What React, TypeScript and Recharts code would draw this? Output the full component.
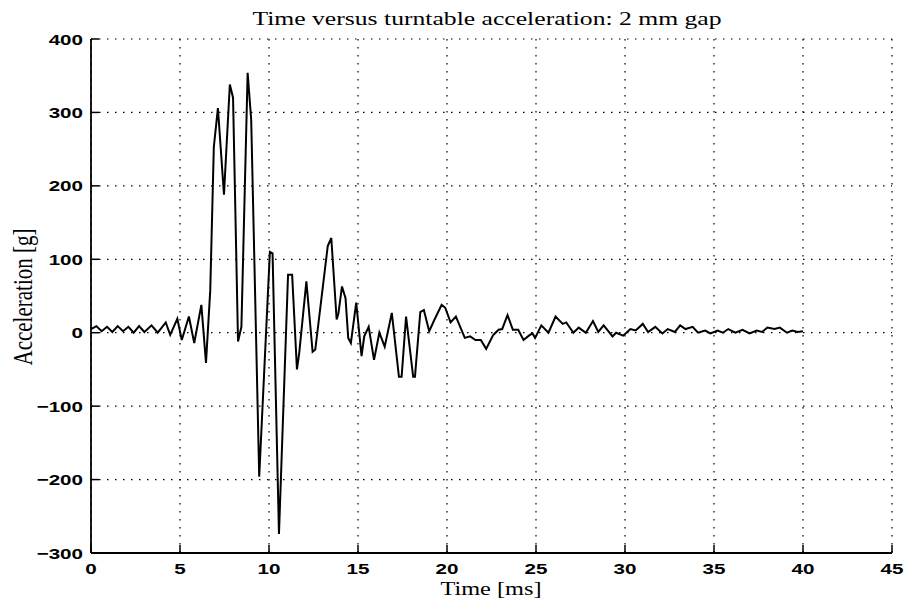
import React from "react";
import {
  LineChart,
  Line,
  XAxis,
  YAxis,
  CartesianGrid,
} from "recharts";

// time samples [ms] and acceleration [g]
const timeMs = [
  0, 0.3, 0.6, 0.9, 1.2, 1.5, 1.8, 2.1, 2.4, 2.7, 3.0, 3.4, 3.75, 4.2, 4.45,
  4.85, 5.1, 5.5, 5.8, 6.2, 6.46, 6.7, 6.9, 7.13, 7.47, 7.8, 7.98, 8.26, 8.45,
  8.8, 9.0, 9.45, 10.05, 10.2, 10.56, 11.07, 11.3, 11.57, 11.7, 12.1, 12.45,
  12.6, 13.3, 13.5, 13.8, 13.9, 14.1, 14.3, 14.45, 14.6, 14.9, 15.2, 15.35,
  15.6, 15.9, 16.2, 16.5, 16.9, 17.3, 17.45, 17.7, 18.1, 18.2, 18.5, 18.7,
  19.0, 19.3, 19.7, 19.9, 20.2, 20.5, 21.0, 21.3, 21.6, 21.9, 22.2, 22.6,
  22.9, 23.1, 23.4, 23.7, 24.0, 24.3, 24.6, 24.8, 24.95, 25.3, 25.7, 26.1,
  26.5, 26.7, 27.1, 27.4, 27.8, 28.2, 28.5, 28.8, 29.3, 29.5, 29.9, 30.3,
  30.6, 31.0, 31.3, 31.7, 32.1, 32.4, 32.8, 33.1, 33.4, 33.8, 34.1, 34.5,
  34.8, 35.2, 35.5, 35.8, 36.2, 36.6, 37.0, 37.4, 37.7, 38.0, 38.4, 38.7,
  39.1, 39.4, 39.7, 40.0,
];

const accelG = [
  5, 9, 2, 8, 1, 9, 2, 8, 0, 9, 1, 10, 0, 14, -3,
  19, -10, 22, -14, 38, -41, 58, 253, 306, 188, 338, 320, -12, 8,
  354, 290, -196, 110, 108, -274, 79, 79, -50, -27, 70, -26,
  -23, 118, 129, 18, 26, 63, 47, -7, -14, 41, -32, -5,
  8, -37, 0, -19, 27, -60, -60, 22, -60, -60, 28, 31,
  2, 18, 38, 34, 14, 22, -7, -5, -10, -10, -22, -3,
  4, 5, 24, 4, 4, -10, -4, -1, -7, 10, 0, 22,
  12, 14, 0, 7, 0, 16, 1, 10, -5, 0, -4, 5,
  3, 12, 1, 8, -1, 5, 1, 10, 5, 8, 0, 3,
  -1, 3, 0, 5, 0, 4, -1, 3, 1, 7, 5, 7,
  0, 3, 1, 2,
];

const xTicks = [0, 5, 10, 15, 20, 25, 30, 35, 40, 45];
const yTicks = [-300, -200, -100, 0, 100, 200, 300, 400];

const data = timeMs.map((t, i) => ({ t, a: accelG[i] }));

const tickFont = {
  fontFamily: '"Liberation Sans", Arial, Helvetica, sans-serif',
  fontSize: 15.5,
  fontWeight: 700,
  fill: "#000",
};

const serif = '"Liberation Serif", "Times New Roman", Times, serif';

function fmt(v: number) {
  return v < 0 ? `\u2212${Math.abs(v)}` : String(v);
}

function BottomTick(props: any) {
  const { x, y, payload } = props;
  return (
    <g>
      <line x1={x} y1={y} x2={x} y2={y - 8} stroke="#000" strokeWidth={1.5} />
      <g transform={`translate(${x},${y + 21}) scale(1.33,1)`}>
        <text x={0} y={0} textAnchor="middle" {...tickFont}>
          {fmt(payload.value)}
        </text>
      </g>
    </g>
  );
}

function LeftTick(props: any) {
  const { x, y, payload } = props;
  return (
    <g>
      <line x1={x} y1={y} x2={x + 8} y2={y} stroke="#000" strokeWidth={1.5} />
      <g transform={`translate(${x - 8},${y + 5.5}) scale(1.33,1)`}>
        <text x={0} y={0} textAnchor="end" {...tickFont}>
          {fmt(payload.value)}
        </text>
      </g>
    </g>
  );
}

function TopTick(props: any) {
  const { x, y } = props;
  return <line x1={x} y1={y} x2={x} y2={y + 8} stroke="#000" strokeWidth={1.5} />;
}

function RightTick(props: any) {
  const { x, y } = props;
  return <line x1={x} y1={y} x2={x - 8} y2={y} stroke="#000" strokeWidth={1.5} />;
}

const border = { stroke: "#000", strokeWidth: 1.8 };

export default function App() {
  return (
    <div style={{ position: "absolute", left: 0, top: 0, width: 905, height: 598, background: "#fff" }}>
      <LineChart
        width={905}
        height={598}
        data={data}
        margin={{ top: 39, right: 13, bottom: 15, left: 31 }}
      >
        <CartesianGrid stroke="#000" strokeWidth={1.2} strokeDasharray="1.5 6.5" />
        <XAxis
          dataKey="t"
          type="number"
          domain={[0, 45]}
          ticks={xTicks}
          interval={0}
          height={30}
          tickSize={0}
          tickMargin={0}
          tickLine={false}
          axisLine={border}
          tick={BottomTick}
        />
        <XAxis
          xAxisId="top"
          orientation="top"
          dataKey="t"
          type="number"
          domain={[0, 45]}
          ticks={xTicks}
          interval={0}
          height={0}
          tickSize={0}
          tickMargin={0}
          tickLine={false}
          axisLine={border}
          tick={TopTick}
        />
        <YAxis
          type="number"
          domain={[-300, 400]}
          ticks={yTicks}
          interval={0}
          width={60}
          tickSize={0}
          tickMargin={0}
          tickLine={false}
          axisLine={border}
          tick={LeftTick}
          allowDataOverflow
        />
        <YAxis
          yAxisId="right"
          orientation="right"
          type="number"
          domain={[-300, 400]}
          ticks={yTicks}
          interval={0}
          width={0}
          tickSize={0}
          tickMargin={0}
          tickLine={false}
          axisLine={border}
          tick={RightTick}
        />
        <Line
          type="linear"
          dataKey="a"
          stroke="#000"
          strokeWidth={2}
          dot={false}
          isAnimationActive={false}
        />
      </LineChart>

      <div
        style={{
          position: "absolute",
          left: 487,
          top: 9,
          fontFamily: serif,
          fontSize: 19,
          lineHeight: 1,
          whiteSpace: "nowrap",
          transform: "translateX(-50%) scaleX(1.35)",
        }}
      >
        Time versus turntable acceleration: 2 mm gap
      </div>
      <div
        style={{
          position: "absolute",
          left: 491,
          top: 580,
          fontFamily: serif,
          fontSize: 18,
          lineHeight: 1,
          whiteSpace: "nowrap",
          transform: "translateX(-50%) scaleX(1.35)",
        }}
      >
        Time [ms]
      </div>
      <div
        style={{
          position: "absolute",
          left: 24,
          top: 297,
          fontFamily: serif,
          fontSize: 21,
          lineHeight: 1,
          whiteSpace: "nowrap",
          transform: "translate(-50%, -50%) rotate(-90deg) scaleY(1.3)",
        }}
      >
        Acceleration [g]
      </div>
    </div>
  );
}
